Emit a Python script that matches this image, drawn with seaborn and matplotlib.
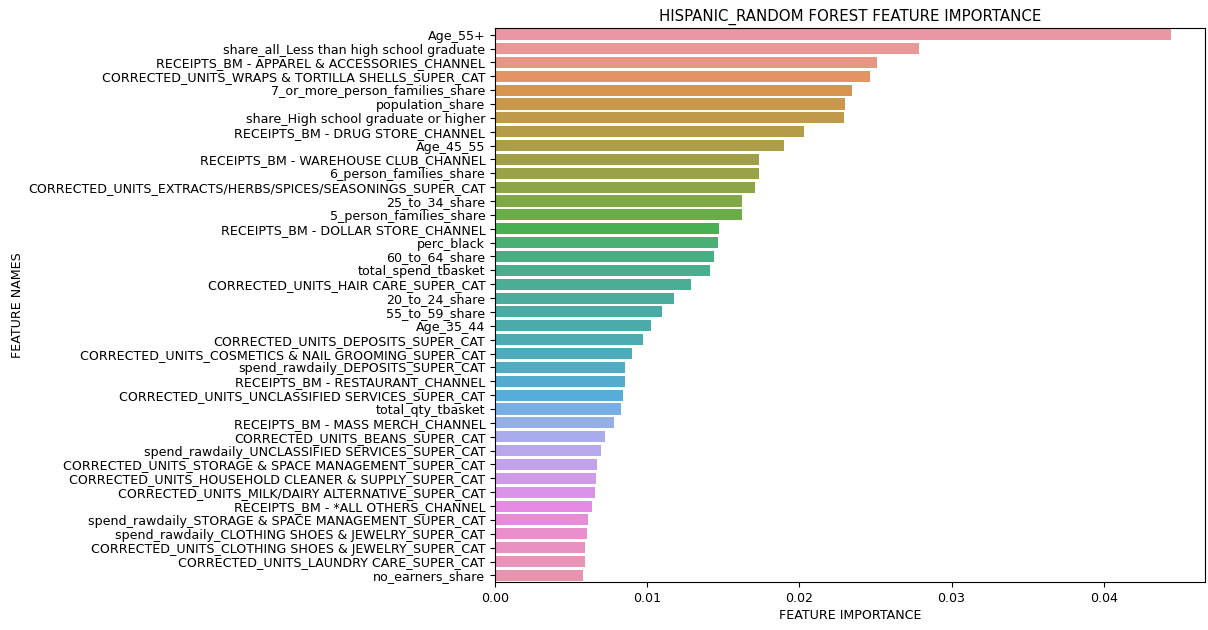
import matplotlib
matplotlib.use("Agg")
import matplotlib.pyplot as plt
import seaborn as sns
import pandas as pd

features = [
    "Age_55+",
    "share_all_Less than high school graduate",
    "RECEIPTS_BM - APPAREL & ACCESSORIES_CHANNEL",
    "CORRECTED_UNITS_WRAPS & TORTILLA SHELLS_SUPER_CAT",
    "7_or_more_person_families_share",
    "population_share",
    "share_High school graduate or higher",
    "RECEIPTS_BM - DRUG STORE_CHANNEL",
    "Age_45_55",
    "RECEIPTS_BM - WAREHOUSE CLUB_CHANNEL",
    "6_person_families_share",
    "CORRECTED_UNITS_EXTRACTS/HERBS/SPICES/SEASONINGS_SUPER_CAT",
    "25_to_34_share",
    "5_person_families_share",
    "RECEIPTS_BM - DOLLAR STORE_CHANNEL",
    "perc_black",
    "60_to_64_share",
    "total_spend_tbasket",
    "CORRECTED_UNITS_HAIR CARE_SUPER_CAT",
    "20_to_24_share",
    "55_to_59_share",
    "Age_35_44",
    "CORRECTED_UNITS_DEPOSITS_SUPER_CAT",
    "CORRECTED_UNITS_COSMETICS & NAIL GROOMING_SUPER_CAT",
    "spend_rawdaily_DEPOSITS_SUPER_CAT",
    "RECEIPTS_BM - RESTAURANT_CHANNEL",
    "CORRECTED_UNITS_UNCLASSIFIED SERVICES_SUPER_CAT",
    "total_qty_tbasket",
    "RECEIPTS_BM - MASS MERCH_CHANNEL",
    "CORRECTED_UNITS_BEANS_SUPER_CAT",
    "spend_rawdaily_UNCLASSIFIED SERVICES_SUPER_CAT",
    "CORRECTED_UNITS_STORAGE & SPACE MANAGEMENT_SUPER_CAT",
    "CORRECTED_UNITS_HOUSEHOLD CLEANER & SUPPLY_SUPER_CAT",
    "CORRECTED_UNITS_MILK/DAIRY ALTERNATIVE_SUPER_CAT",
    "RECEIPTS_BM - *ALL OTHERS_CHANNEL",
    "spend_rawdaily_STORAGE & SPACE MANAGEMENT_SUPER_CAT",
    "spend_rawdaily_CLOTHING SHOES & JEWELRY_SUPER_CAT",
    "CORRECTED_UNITS_CLOTHING SHOES & JEWELRY_SUPER_CAT",
    "CORRECTED_UNITS_LAUNDRY CARE_SUPER_CAT",
    "no_earners_share",
]

importance = [
    0.04443, 0.02784, 0.02507, 0.02465, 0.02343, 0.02300, 0.02291, 0.02032,
    0.01898, 0.01734, 0.01734, 0.01708, 0.01625, 0.01625, 0.01474, 0.01466,
    0.01441, 0.01415, 0.01290, 0.01173, 0.01098, 0.01022, 0.00972, 0.00897,
    0.00856, 0.00856, 0.00838, 0.00830, 0.00779, 0.00720, 0.00696, 0.00672,
    0.00661, 0.00655, 0.00637, 0.00613, 0.00604, 0.00589, 0.00589, 0.00580,
]

df = pd.DataFrame({"feature": features, "importance": importance})

plt.rcParams["font.size"] = 9.05
fig, ax = plt.subplots(figsize=(12.08, 6.30), dpi=100)
palette = sns.husl_palette(len(features), l=.7)
sns.barplot(data=df, x="importance", y="feature", hue="feature",
            palette=palette, saturation=0.75, legend=False, ax=ax)
ax.set_title("HISPANIC_RANDOM FOREST FEATURE IMPORTANCE", fontsize=10.8, pad=5)
ax.set_xlabel("FEATURE IMPORTANCE", labelpad=3)
ax.set_ylabel("FEATURE NAMES")
fig.subplots_adjust(left=0.4098, right=0.9975, top=0.956, bottom=0.0757)
ax.yaxis.set_label_coords(-0.664, 0.5)
fig.savefig("out.png", dpi=100)
